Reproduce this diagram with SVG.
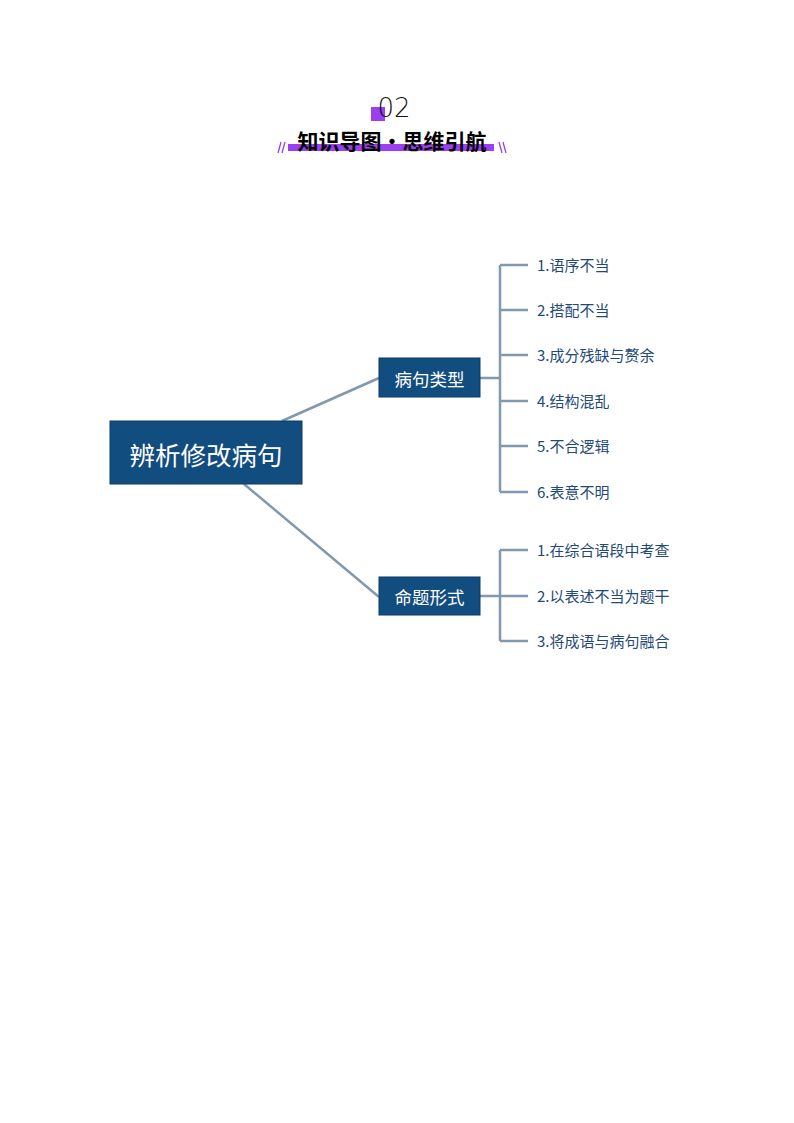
<svg xmlns="http://www.w3.org/2000/svg" width="794" height="1123" viewBox="0 0 794 1123">
<style>
.box{fill:#124d80;stroke:#0d3a63;stroke-width:1}
.conn{stroke:#8099ae;stroke-width:2.5;fill:none;stroke-linecap:butt}
.lt{font-family:"Noto Sans CJK SC","Liberation Sans",sans-serif;fill:#fff;text-anchor:middle;dominant-baseline:central}
.leaf{font-family:"Noto Sans CJK SC","Liberation Sans",sans-serif;font-size:15px;fill:#1f4a78;dominant-baseline:central}
.sl{stroke:#9b3ff0;stroke-width:1.3;fill:none}
</style>
<rect width="794" height="1123" fill="#fff"/>
<g id="header">
<rect x="371" y="107" width="14" height="14" fill="#9b3ff0"/>
<text x="394" y="117" font-family="'DejaVu Sans',sans-serif" font-weight="300" font-size="26" fill="#111" text-anchor="middle">02</text>
<rect x="288" y="144" width="206" height="7" fill="#9b3ff0"/>
<text x="392" y="149" font-family="'Noto Sans CJK SC',sans-serif" font-weight="bold" font-size="21" fill="#000" text-anchor="middle">知识导图·思维引航</text>
<path class="sl" d="M278 153 L281 142 M282 153 L285 142"/>
<path class="sl" d="M499 142 L502 153 M503 142 L506 153"/>
</g>
<g id="connectors">
<path class="conn" d="M282 421 L379 378"/>
<path class="conn" d="M244 484 L379 597"/>
<path class="conn" d="M480 378 H500 M500 265 V492 M500 265 H528 M500 310 H528 M500 355 H528 M500 401 H528 M500 446 H528 M500 492 H528"/>
<path class="conn" d="M480 596 H500 M500 550 V641 M500 550 H528 M500 596 H528 M500 641 H528"/>
</g>
<g id="root">
<rect class="box" x="110" y="421" width="192" height="63"/>
<text class="lt" x="206" y="453" font-size="25.5">辨析修改病句</text>
</g>
<g id="type">
<rect class="box" x="379" y="358" width="101" height="39"/>
<text class="lt" x="429.5" y="378" font-size="17.5">病句类型</text>
</g>
<g id="form">
<rect class="box" x="379" y="577" width="101" height="38"/>
<text class="lt" x="429.5" y="596.5" font-size="17.5">命题形式</text>
</g>
<g id="leaf1"><text class="leaf" x="537" y="264">1.语序不当</text></g>
<g id="leaf2"><text class="leaf" x="537" y="309">2.搭配不当</text></g>
<g id="leaf3"><text class="leaf" x="537" y="354">3.成分残缺与赘余</text></g>
<g id="leaf4"><text class="leaf" x="537" y="400">4.结构混乱</text></g>
<g id="leaf5"><text class="leaf" x="537" y="445">5.不合逻辑</text></g>
<g id="leaf6"><text class="leaf" x="537" y="491">6.表意不明</text></g>
<g id="leaf7"><text class="leaf" x="537" y="549">1.在综合语段中考查</text></g>
<g id="leaf8"><text class="leaf" x="537" y="595">2.以表述不当为题干</text></g>
<g id="leaf9"><text class="leaf" x="537" y="640">3.将成语与病句融合</text></g>
</svg>
